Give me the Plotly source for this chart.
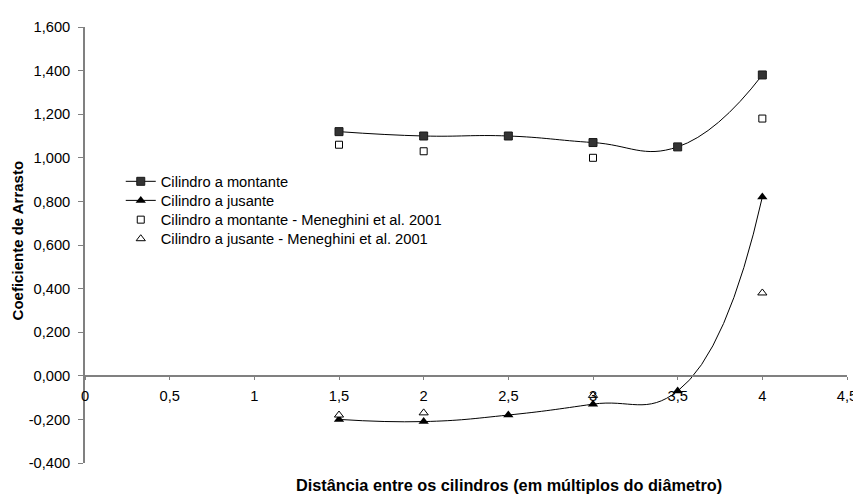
import plotly.graph_objects as go

# Data
distancia = [1.5, 2, 2.5, 3, 3.5, 4]
cd_montante = [1.12, 1.10, 1.10, 1.07, 1.05, 1.38]
cd_jusante = [-0.20, -0.21, -0.18, -0.13, -0.07, 0.82]

distancia_men = [1.5, 2, 3, 4]
cd_montante_men = [1.06, 1.03, 1.00, 1.18]
cd_jusante_men = [-0.18, -0.17, -0.09, 0.38]

x_tick_vals = [0, 0.5, 1, 1.5, 2, 2.5, 3, 3.5, 4, 4.5]
x_tick_text = ["0", "0,5", "1", "1,5", "2", "2,5", "3", "3,5", "4", "4,5"]
y_tick_vals = [-0.4, -0.2, 0, 0.2, 0.4, 0.6, 0.8, 1.0, 1.2, 1.4, 1.6]
y_tick_text = ["-0,400", "-0,200", "0,000", "0,200", "0,400", "0,600", "0,800",
               "1,000", "1,200", "1,400", "1,600"]

FONT = "Arial, Liberation Sans, sans-serif"
FS = 14.7
# the page body keeps its default 8px margin, so positions are shifted by 8px
W, H = 861, 487
ML, MR, MT, MB = 77, 17, 11.3, 32
PW = W - ML - MR
PH = H - MT - MB


def px_x(p):
    return (p - ML) / PW


def px_y(p):
    return 1 - (p - MT) / PH


fig = go.Figure()
fig.add_trace(go.Scatter(
    x=distancia, y=cd_montante, name="Cilindro a montante", legend="legend",
    mode="lines+markers", line=dict(color="black", width=1, shape="spline", smoothing=1.3),
    marker=dict(symbol="square", size=8, color="#333333", line=dict(color="#1a1a1a", width=1))))
fig.add_trace(go.Scatter(
    x=distancia, y=cd_jusante, name="Cilindro a jusante", legend="legend2",
    mode="lines+markers", line=dict(color="black", width=1, shape="spline", smoothing=1.3),
    marker=dict(symbol="triangle-up", size=9, color="black")))
fig.add_trace(go.Scatter(
    x=distancia_men, y=cd_montante_men, name="Cilindro a montante - Meneghini et al. 2001",
    legend="legend3", mode="markers",
    marker=dict(symbol="square", size=7, color="white", line=dict(color="black", width=1))))
fig.add_trace(go.Scatter(
    x=distancia_men, y=cd_jusante_men, name="Cilindro a jusante - Meneghini et al. 2001",
    legend="legend4", mode="markers",
    marker=dict(symbol="triangle-up", size=8, color="white", line=dict(color="black", width=1))))

legend_rows = [168.8, 188.2, 207.8, 227.2]
legend_common = dict(xanchor="left", yanchor="middle", bgcolor="rgba(0,0,0,0)", borderwidth=0,
                     font=dict(family=FONT, size=FS, color="black"), itemwidth=30)
legend_layout = {}
for i, row in enumerate(legend_rows):
    key = "legend" if i == 0 else f"legend{i + 1}"
    legend_layout[key] = dict(x=px_x(113), y=px_y(row), **legend_common)

fig.update_layout(
    width=W, height=H,
    margin=dict(l=ML, r=MR, t=MT, b=MB),
    paper_bgcolor="white", plot_bgcolor="white",
    font=dict(family=FONT, size=FS, color="black"),
    showlegend=True,
    **legend_layout,
    xaxis=dict(range=[0, 4.5], tickvals=x_tick_vals, ticktext=x_tick_text,
               showgrid=False, zeroline=False, showline=True, linecolor="#808080", linewidth=1.5,
               ticks="outside", ticklen=3, tickcolor="#808080", tickwidth=1,
               ticklabelstandoff=4, ticklabeloverflow="allow",
               anchor="free", position=0.2,
               tickfont=dict(family=FONT, size=FS, color="black")),
    yaxis=dict(range=[-0.4, 1.6], tickvals=y_tick_vals, ticktext=y_tick_text,
               showgrid=False, zeroline=False, showline=True, linecolor="#808080", linewidth=1.5,
               ticks="outside", ticklen=5, tickcolor="#808080", tickwidth=1,
               ticklabelstandoff=5,
               tickfont=dict(family=FONT, size=FS, color="black")),
    annotations=[
        dict(text="<b>Distância entre os cilindros (em múltiplos do diâmetro)</b>",
             xref="paper", yref="paper", x=px_x(504), y=px_y(477),
             xanchor="center", yanchor="middle", showarrow=False,
             font=dict(family=FONT, size=16.3, color="black")),
        dict(text="<b>Coeficiente de Arrasto</b>", textangle=-90,
             xref="paper", yref="paper", x=px_x(10), y=px_y(228),
             xanchor="center", yanchor="middle", showarrow=False,
             font=dict(family=FONT, size=15, color="black")),
    ],
)

fig.write_html("out.html")
